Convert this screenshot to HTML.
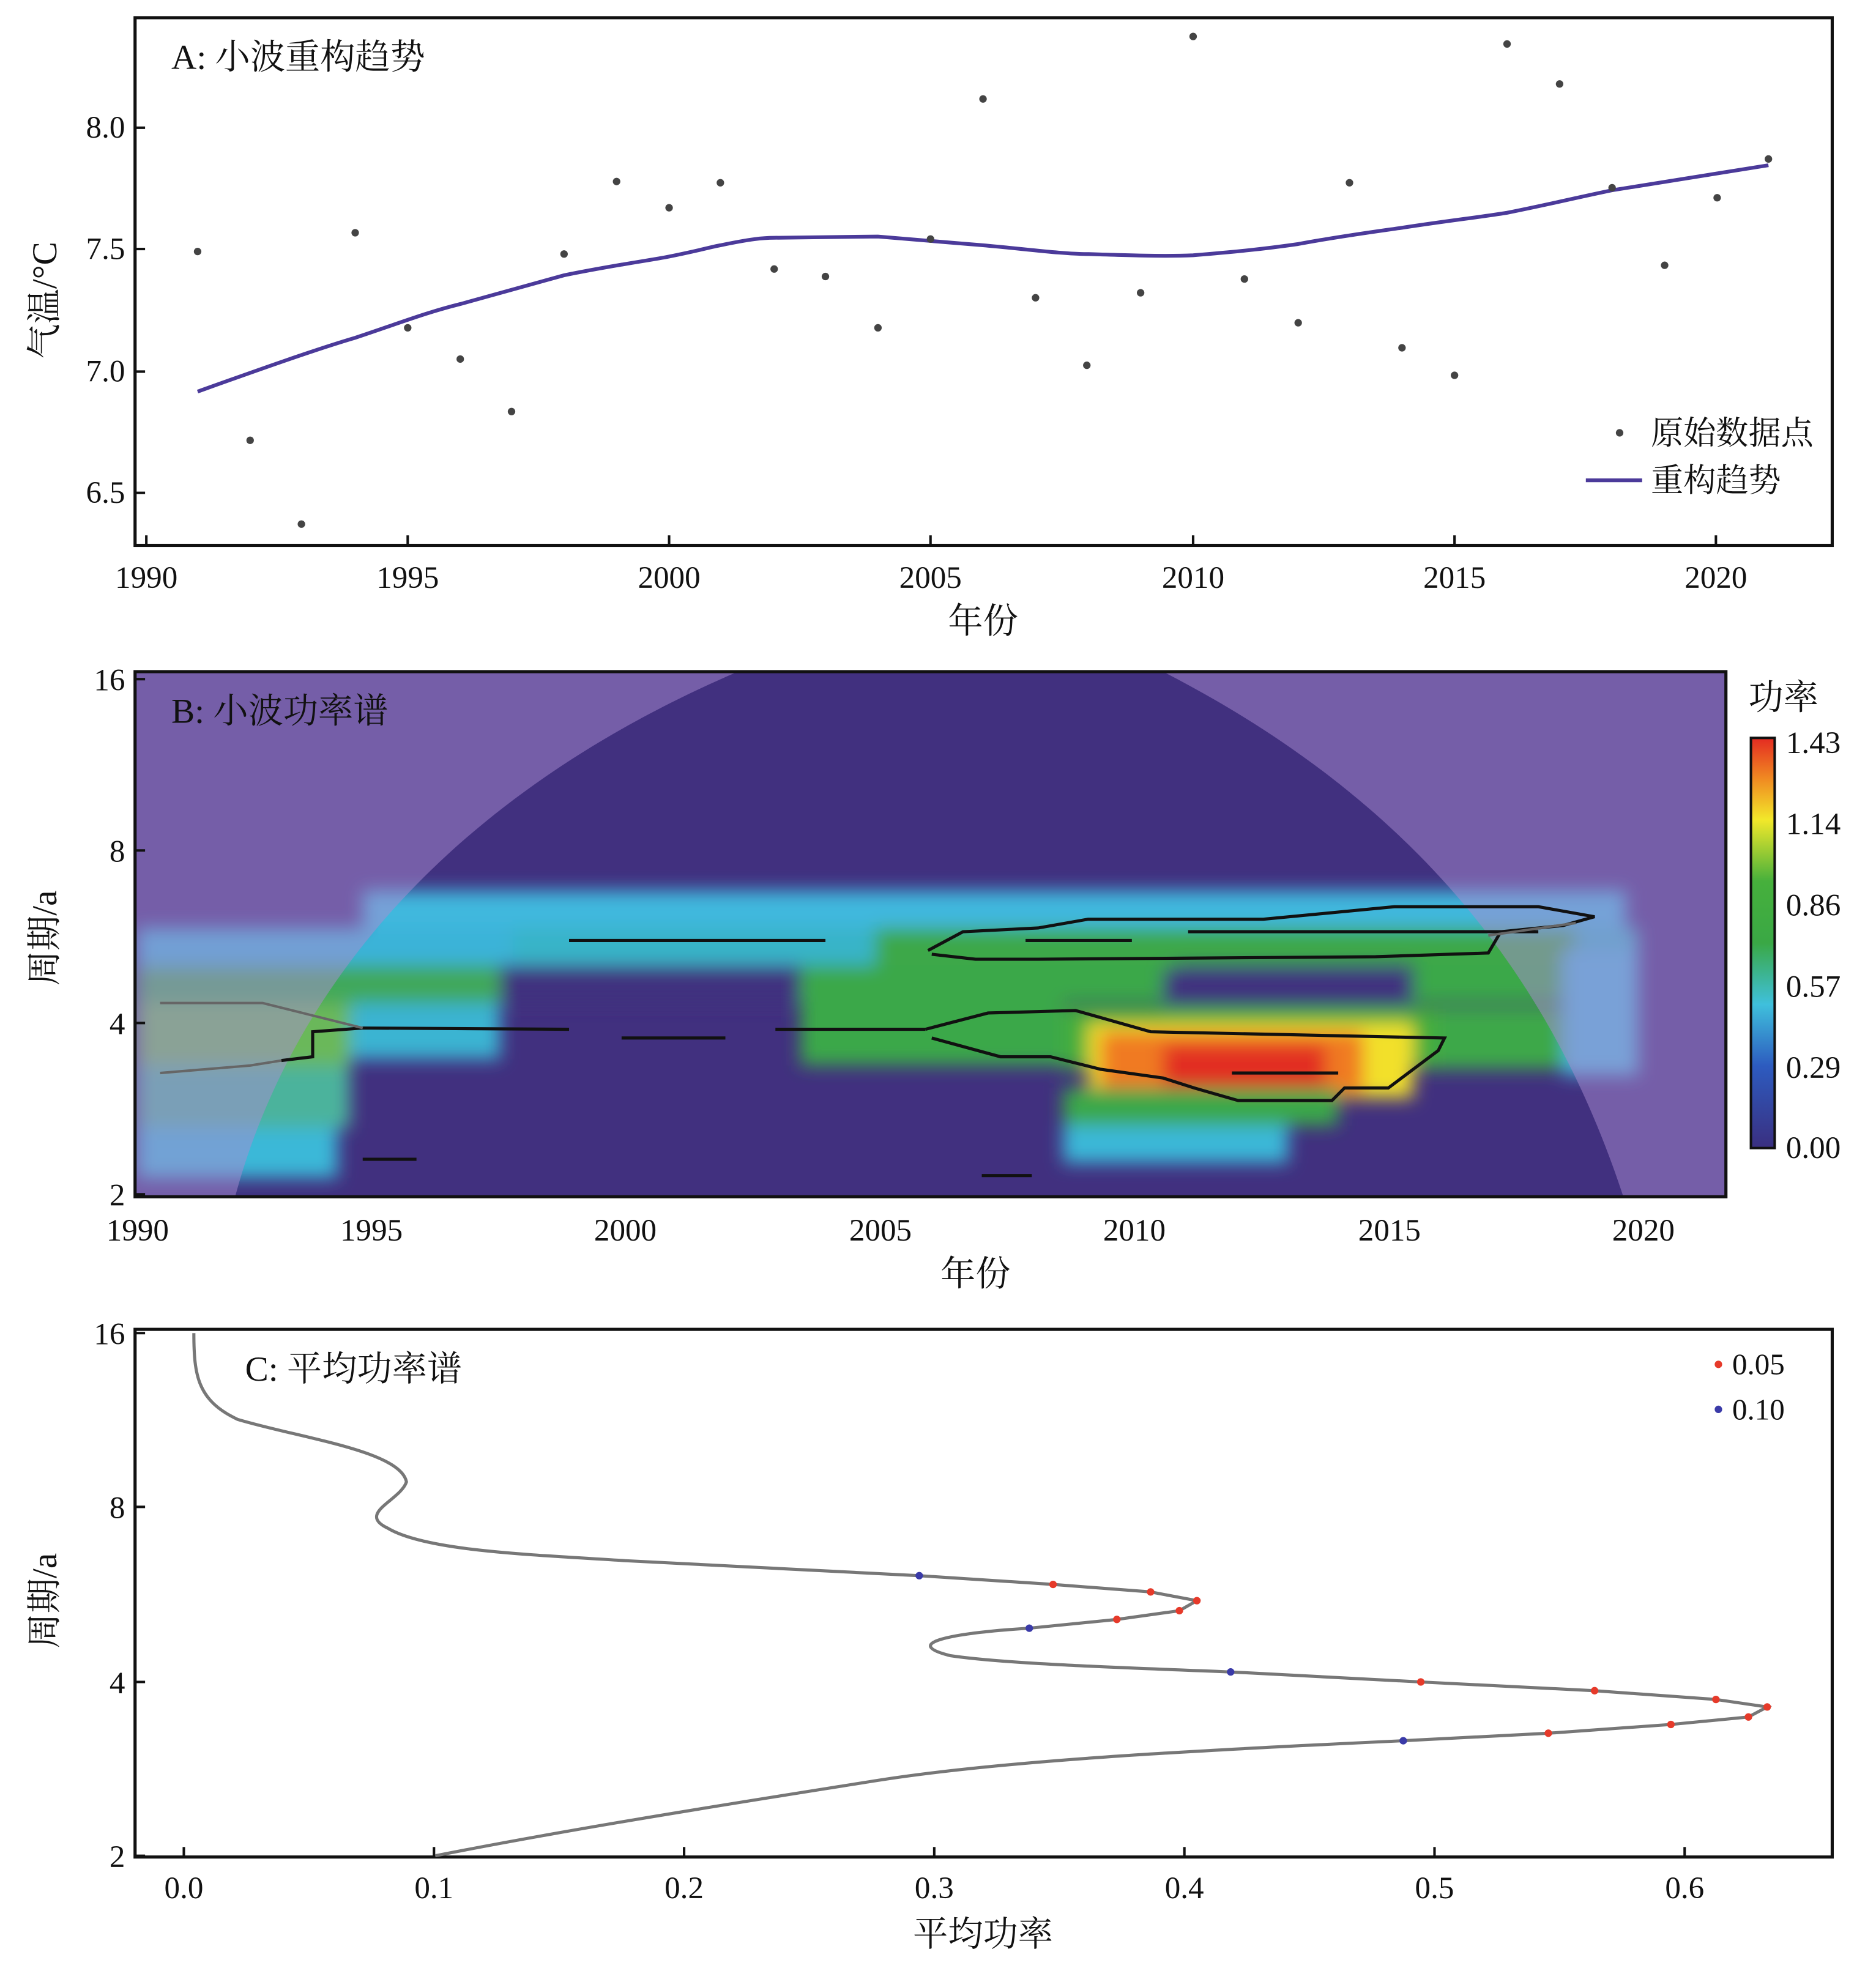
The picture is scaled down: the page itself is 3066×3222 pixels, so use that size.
<!DOCTYPE html>
<html><head><meta charset="utf-8">
<style>
html,body{margin:0;padding:0;background:#fff;}
svg{display:block;}
text{font-family:"Liberation Serif","Noto Serif CJK SC",serif;fill:#111;}
</style></head>
<body>
<svg width="3066" height="3222" viewBox="0 0 1500 1576" xmlns="http://www.w3.org/2000/svg">
<defs>
<filter id="bl" x="-0.2" y="-0.5" width="1.4" height="2"><feGaussianBlur stdDeviation="7"/></filter>
<clipPath id="cb"><rect x="108" y="537" width="1272" height="420"/></clipPath>
<linearGradient id="cbar" x1="0" y1="1" x2="0" y2="0">
<stop offset="0" stop-color="#3a2f80"/><stop offset="0.2" stop-color="#2d5bbf"/>
<stop offset="0.35" stop-color="#3fc0dc"/><stop offset="0.5" stop-color="#3aa845"/>
<stop offset="0.65" stop-color="#46b03c"/><stop offset="0.8" stop-color="#f2e82a"/>
<stop offset="0.9" stop-color="#f08a22"/><stop offset="1" stop-color="#e42b22"/></linearGradient>
</defs>

<!-- PANEL A -->
<rect x="108" y="14" width="1357" height="422" fill="none" stroke="#111" stroke-width="2.5"/>
<g stroke="#111" stroke-width="2">
<line x1="117" y1="436" x2="117" y2="428"/><line x1="326" y1="436" x2="326" y2="428"/><line x1="535" y1="436" x2="535" y2="428"/><line x1="744" y1="436" x2="744" y2="428"/><line x1="954" y1="436" x2="954" y2="428"/><line x1="1163" y1="436" x2="1163" y2="428"/><line x1="1372" y1="436" x2="1372" y2="428"/>
<line x1="108" y1="102" x2="116" y2="102"/><line x1="108" y1="199" x2="116" y2="199"/><line x1="108" y1="297" x2="116" y2="297"/><line x1="108" y1="394" x2="116" y2="394"/>
</g>
<g font-size="25" text-anchor="end">
<text x="100" y="110">8.0</text><text x="100" y="207">7.5</text><text x="100" y="305">7.0</text><text x="100" y="402">6.5</text></g>
<g font-size="25" text-anchor="middle">
<text x="117" y="470">1990</text><text x="326" y="470">1995</text><text x="535" y="470">2000</text><text x="744" y="470">2005</text><text x="954" y="470">2010</text><text x="1163" y="470">2015</text><text x="1372" y="470">2020</text>
<text x="786" y="506" font-size="28">年份</text></g>
<text transform="translate(45,240) rotate(-90)" font-size="28" text-anchor="middle">气温/°C</text>
<text x="137" y="55" font-size="28">A: 小波重构趋势</text>
<path fill="none" stroke="#4b3a9a" stroke-width="3" d="M158,313 C200,298 250,280 284,270 C320,258 340,250 368,243 C400,234 430,226 451,220 C490,212 520,208 535,205 C560,200 570,197 576,196 C600,191 610,190 619,190 L702,189 C740,192 760,194 786,196 C820,199 850,203 869,203 C900,204 930,205 954,204 C990,201 1010,199 1038,195 C1070,189 1100,185 1121,182 C1160,176 1180,174 1205,170 C1240,163 1260,158 1289,152 L1414,132"/>
<g fill="#444">
<circle cx="158" cy="201" r="3"/><circle cx="200" cy="352" r="3"/><circle cx="241" cy="419" r="3"/><circle cx="284" cy="186" r="3"/><circle cx="326" cy="262" r="3"/><circle cx="368" cy="287" r="3"/><circle cx="409" cy="329" r="3"/><circle cx="451" cy="203" r="3"/><circle cx="493" cy="145" r="3"/><circle cx="535" cy="166" r="3"/><circle cx="576" cy="146" r="3"/><circle cx="619" cy="215" r="3"/><circle cx="660" cy="221" r="3"/><circle cx="702" cy="262" r="3"/><circle cx="744" cy="191" r="3"/><circle cx="786" cy="79" r="3"/><circle cx="828" cy="238" r="3"/><circle cx="869" cy="292" r="3"/><circle cx="912" cy="234" r="3"/><circle cx="954" cy="29" r="3"/><circle cx="995" cy="223" r="3"/><circle cx="1038" cy="258" r="3"/><circle cx="1079" cy="146" r="3"/><circle cx="1121" cy="278" r="3"/><circle cx="1163" cy="300" r="3"/><circle cx="1205" cy="35" r="3"/><circle cx="1247" cy="67" r="3"/><circle cx="1289" cy="150" r="3"/><circle cx="1331" cy="212" r="3"/><circle cx="1373" cy="158" r="3"/><circle cx="1414" cy="127" r="3"/>
<circle cx="1295" cy="346" r="3"/></g>
<text x="1320" y="355" font-size="26">原始数据点</text>
<line x1="1268" y1="384" x2="1313" y2="384" stroke="#4b3a9a" stroke-width="3"/>
<text x="1320" y="393" font-size="26">重构趋势</text>

<!-- PANEL B -->
<g clip-path="url(#cb)">
<rect x="108" y="537" width="1272" height="420" fill="#41307f"/>
<g filter="url(#bl)">
<rect x="290" y="712" width="1010" height="30" fill="#3fb8de"/>
<rect x="110" y="742" width="300" height="30" fill="#3bb3d8"/>
<rect x="410" y="742" width="900" height="30" fill="#38b4c8"/>
<rect x="700" y="742" width="560" height="30" fill="#3da84a"/>
<rect x="110" y="772" width="290" height="30" fill="#3fa85a"/>
<rect x="400" y="772" width="240" height="30" fill="#41307f"/>
<rect x="640" y="772" width="300" height="30" fill="#3aa84a"/>
<rect x="930" y="775" width="200" height="30" fill="#41307f"/>
<rect x="1130" y="772" width="130" height="30" fill="#3ba84a"/>
<rect x="1250" y="760" width="60" height="100" fill="#48b6dc"/>
<rect x="110" y="802" width="170" height="50" fill="#6ab85a"/>
<rect x="280" y="802" width="120" height="45" fill="#3bb4d2"/>
<rect x="640" y="802" width="210" height="50" fill="#3aa84a"/>
<rect x="850" y="805" width="300" height="50" fill="#44ad3e"/>
<rect x="1150" y="805" width="100" height="50" fill="#3da848"/>
<rect x="870" y="818" width="260" height="60" fill="#f2e02a"/>
<rect x="880" y="825" width="210" height="50" fill="#f07a22"/>
<rect x="930" y="835" width="130" height="40" fill="#e22e24"/>
<rect x="110" y="852" width="170" height="50" fill="#4cb39c"/>
<rect x="850" y="870" width="220" height="30" fill="#3aa84a"/>
<rect x="110" y="902" width="160" height="40" fill="#3bb8d8"/>
<rect x="850" y="900" width="180" height="30" fill="#3bb8d8"/>
</g>
<path fill="rgba(170,140,210,0.5)" fill-rule="evenodd" d="M108,537 H1380 V957 H108 Z M188,957 C230,800 350,640 590,537 L930,537 C1130,640 1240,780 1298,957 Z"/>
<g fill="none" stroke="#111" stroke-width="2.5">
<polyline points="225,848 250,845 250,825 290,822 455,823"/>
<polyline points="497,830 580,830"/>
<polyline points="620,823 740,823"/>
<polyline points="455,752 660,752"/>
<polyline points="740,823 790,810 860,808 920,825 1155,830 1150,840 1110,870 1075,870 1065,880 990,880 955,870 930,862 880,855 840,845 800,845 745,830"/>
<polyline points="985,858 1070,858"/>
<polyline points="742,760 770,745 830,742 870,735 1010,735 1115,725 1230,725 1275,733 1250,740 1200,745 1190,762 1100,765 830,767 780,767 745,763"/>
<polyline points="950,745 1230,745"/>
<polyline points="820,752 905,752"/>
<polyline points="290,927 333,927"/>
<polyline points="785,940 825,940"/>
</g>
<g fill="none" stroke="#666" stroke-width="2">
<polyline points="128,802 210,802 250,812 290,822"/>
<polyline points="128,858 200,852 225,848"/>
<polyline points="1190,748 1260,738"/>
</g>
</g>
<rect x="108" y="537" width="1272" height="420" fill="none" stroke="#111" stroke-width="2.5"/>
<g stroke="#111" stroke-width="2">
<line x1="108" y1="543" x2="116" y2="543"/><line x1="108" y1="680" x2="116" y2="680"/><line x1="108" y1="818" x2="116" y2="818"/><line x1="108" y1="955" x2="116" y2="955"/>
</g>
<g font-size="25" text-anchor="end">
<text x="100" y="552">16</text><text x="100" y="689">8</text><text x="100" y="827">4</text><text x="100" y="964">2</text></g>
<g font-size="25" text-anchor="middle">
<text x="110" y="992">1990</text><text x="297" y="992">1995</text><text x="500" y="992">2000</text><text x="704" y="992">2005</text><text x="907" y="992">2010</text><text x="1111" y="992">2015</text><text x="1314" y="992">2020</text>
<text x="780" y="1028" font-size="28">年份</text></g>
<text transform="translate(45,750) rotate(-90)" font-size="28" text-anchor="middle">周期/a</text>
<text x="137" y="578" font-size="28">B: 小波功率谱</text>
<text x="1398" y="567" font-size="28">功率</text>
<rect x="1400" y="590" width="19" height="328" fill="url(#cbar)" stroke="#111" stroke-width="2"/>
<g font-size="25">
<text x="1428" y="602">1.43</text><text x="1428" y="667">1.14</text><text x="1428" y="732">0.86</text><text x="1428" y="797">0.57</text><text x="1428" y="862">0.29</text><text x="1428" y="926">0.00</text></g>

<!-- PANEL C -->
<rect x="108" y="1063" width="1357" height="422" fill="none" stroke="#111" stroke-width="2.5"/>
<g stroke="#111" stroke-width="2">
<line x1="147" y1="1485" x2="147" y2="1477"/><line x1="347" y1="1485" x2="347" y2="1477"/><line x1="547" y1="1485" x2="547" y2="1477"/><line x1="747" y1="1485" x2="747" y2="1477"/><line x1="947" y1="1485" x2="947" y2="1477"/><line x1="1147" y1="1485" x2="1147" y2="1477"/><line x1="1347" y1="1485" x2="1347" y2="1477"/>
<line x1="108" y1="1066" x2="116" y2="1066"/><line x1="108" y1="1205" x2="116" y2="1205"/><line x1="108" y1="1345" x2="116" y2="1345"/><line x1="108" y1="1484" x2="116" y2="1484"/>
</g>
<g font-size="25" text-anchor="end">
<text x="100" y="1075">16</text><text x="100" y="1214">8</text><text x="100" y="1354">4</text><text x="100" y="1493">2</text></g>
<g font-size="25" text-anchor="middle">
<text x="147" y="1518">0.0</text><text x="347" y="1518">0.1</text><text x="547" y="1518">0.2</text><text x="747" y="1518">0.3</text><text x="947" y="1518">0.4</text><text x="1147" y="1518">0.5</text><text x="1347" y="1518">0.6</text>
<text x="786" y="1556" font-size="28">平均功率</text></g>
<text transform="translate(45,1280) rotate(-90)" font-size="28" text-anchor="middle">周期/a</text>
<text x="196" y="1104" font-size="28">C: 平均功率谱</text>
<path fill="none" stroke="#777" stroke-width="2.5" d="M155,1066 C155,1100 158,1120 190,1135 C240,1150 320,1160 325,1185 C320,1200 285,1210 310,1222 C340,1240 420,1243 500,1248 L735,1260 L842,1267 L920,1273 L957,1280 L943,1288 L893,1295 L823,1302 C760,1306 720,1314 760,1324 C800,1330 880,1333 984,1337 L1136,1345 L1275,1352 L1372,1359 L1413,1365 L1398,1373 L1336,1379 L1238,1386 L1122,1392 C950,1400 800,1408 700,1424 C600,1440 470,1460 348,1484"/>
<g fill="#e63a2a">
<circle cx="842" cy="1267" r="3"/><circle cx="920" cy="1273" r="3"/><circle cx="957" cy="1280" r="3"/><circle cx="943" cy="1288" r="3"/><circle cx="893" cy="1295" r="3"/><circle cx="1136" cy="1345" r="3"/><circle cx="1275" cy="1352" r="3"/><circle cx="1372" cy="1359" r="3"/><circle cx="1413" cy="1365" r="3"/><circle cx="1398" cy="1373" r="3"/><circle cx="1336" cy="1379" r="3"/><circle cx="1238" cy="1386" r="3"/>
<circle cx="1374" cy="1091" r="3"/></g>
<g fill="#3a3aa8">
<circle cx="735" cy="1260" r="3"/><circle cx="823" cy="1302" r="3"/><circle cx="984" cy="1337" r="3"/><circle cx="1122" cy="1392" r="3"/>
<circle cx="1374" cy="1127" r="3"/></g>
<text x="1385" y="1099" font-size="24">0.05</text>
<text x="1385" y="1135" font-size="24">0.10</text>
</svg>
</body></html>
